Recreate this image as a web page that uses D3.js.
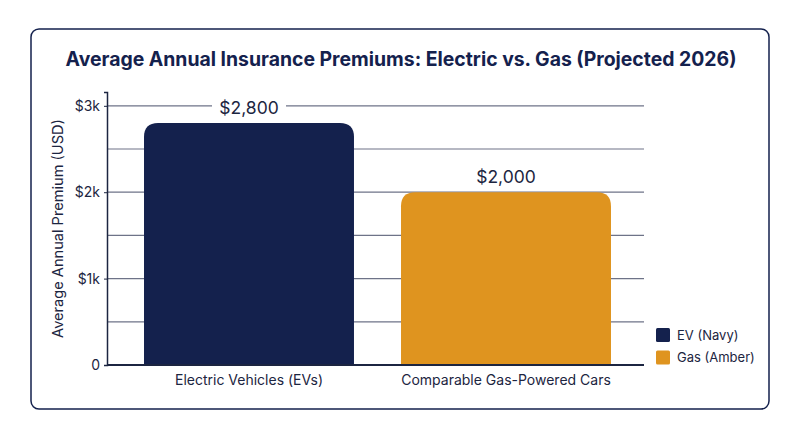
<!DOCTYPE html>
<html>
<head>
<meta charset="utf-8">
<script src="https://cdn.jsdelivr.net/npm/d3@7"></script>
<style>
  body { margin: 0; background: #fff; font-family: Inter, "Noto Sans", sans-serif; }
</style>
</head>
<body>
<div id="chart"></div>
<script>
// data
var categories = ["Electric Vehicles (EVs)", "Comparable Gas-Powered Cars"];
var premiums = [2800, 2000];
var barLabels = ["$2,800", "$2,000"];
var seriesNames = ["EV (Navy)", "Gas (Amber)"];
var yTicks = [0, 1000, 2000, 3000];
var yTickLabels = ["0", "$1k", "$2k", "$3k"];
var gridValues = [500, 1000, 1500, 2000, 2500, 3000];

var navy = "#14214d";
var amber = "#df941f";
var ink = "#1c2541";

var svgWidth = 800;
var svgHeight = 447;

var margin = { top: 92, left: 107, right: 156, bottom: 82 };
var width = svgWidth - margin.left - margin.right;
var height = svgHeight - margin.top - margin.bottom;

var svg = d3.select("#chart")
  .append("svg")
  .attr("width", svgWidth)
  .attr("height", svgHeight);

// card
svg.append("rect")
  .attr("x", 31)
  .attr("y", 29)
  .attr("width", 738)
  .attr("height", 380)
  .attr("rx", 8)
  .attr("fill", "#fff")
  .attr("stroke", navy)
  .attr("stroke-width", 1.5);

svg.append("text")
  .attr("x", 401)
  .attr("y", 66)
  .attr("text-anchor", "middle")
  .attr("font-size", 19.4)
  .attr("font-weight", 700)
  .attr("fill", navy)
  .text("Average Annual Insurance Premiums: Electric vs. Gas (Projected 2026)");

var chartGroup = svg.append("g")
  .attr("transform", `translate(${margin.left}, ${margin.top})`);

var xScale = d3.scaleBand()
  .domain(categories)
  .range([0, 541])
  .paddingInner(0.183)
  .paddingOuter(0.144);

var yScale = d3.scaleLinear()
  .domain([0, 3160])
  .range([height, 0]);

// gridlines
chartGroup.selectAll(".grid")
  .data(gridValues)
  .enter()
  .append("line")
  .attr("x1", 0)
  .attr("x2", width)
  .attr("y1", d => yScale(d))
  .attr("y2", d => yScale(d))
  .attr("stroke", "#6e7388")
  .attr("stroke-width", 1.2);

// bars with rounded top
var r = 14;
chartGroup.selectAll(".bar")
  .data(premiums)
  .enter()
  .append("path")
  .attr("fill", (d, i) => i === 0 ? navy : amber)
  .attr("d", function(d, i) {
    var x0 = xScale(categories[i]);
    var w = xScale.bandwidth();
    var y0 = yScale(d);
    var yb = yScale(0);
    return `M${x0},${yb} V${y0 + r} Q${x0},${y0} ${x0 + r},${y0} H${x0 + w - r} Q${x0 + w},${y0} ${x0 + w},${y0 + r} V${yb} Z`;
  });

// value labels with white backing
var labels = chartGroup.selectAll(".val")
  .data(premiums)
  .enter()
  .append("g")
  .attr("transform", (d, i) => `translate(${xScale(categories[i]) + xScale.bandwidth() / 2}, ${yScale(d) - 15})`);

labels.append("rect")
  .attr("x", -37)
  .attr("y", -12)
  .attr("width", 74)
  .attr("height", 24)
  .attr("fill", "#fff");

labels.append("text")
  .attr("text-anchor", "middle")
  .attr("dy", "0.35em")
  .attr("font-size", 17.5)
  .attr("fill", ink)
  .text((d, i) => barLabels[i]);

// axes
var leftAxis = d3.axisLeft(yScale)
  .tickValues(yTicks)
  .tickFormat((d, i) => yTickLabels[i])
  .tickSize(3)
  .tickPadding(4);

var yAxisG = chartGroup.append("g").call(leftAxis);
yAxisG.select(".domain").attr("stroke", ink).attr("stroke-width", 1.5);
yAxisG.selectAll(".tick line").attr("stroke", ink);
yAxisG.selectAll("text").attr("font-size", 14).attr("fill", ink).attr("font-family", "Inter, sans-serif");

var bottomAxis = d3.axisBottom(xScale).tickSize(0).tickPadding(10);
var xAxisG = chartGroup.append("g")
  .attr("transform", `translate(0, ${height})`)
  .call(bottomAxis);
xAxisG.select(".domain").attr("stroke", ink).attr("stroke-width", 1.8).attr("d", `M0,0H${width}`);
xAxisG.selectAll("text").attr("font-size", 14).attr("fill", ink).attr("font-family", "Inter, sans-serif");

// y axis title
chartGroup.append("text")
  .attr("transform", "rotate(-90)")
  .attr("x", -(228.5 - margin.top))
  .attr("y", -44)
  .attr("text-anchor", "middle")
  .attr("font-size", 14.6)
  .attr("fill", ink)
  .text("Average Annual Premium (USD)");

// legend
var legend = svg.append("g")
  .attr("transform", "translate(656, 328)");

var item = legend.selectAll("g")
  .data(seriesNames)
  .enter()
  .append("g")
  .attr("transform", (d, i) => `translate(0, ${i * 22.5})`);

item.append("rect")
  .attr("width", 14)
  .attr("height", 14)
  .attr("rx", 1.5)
  .attr("fill", (d, i) => i === 0 ? navy : amber);

item.append("text")
  .attr("x", 21)
  .attr("y", 7)
  .attr("dy", "0.35em")
  .attr("font-size", 13)
  .attr("fill", ink)
  .text(d => d);
</script>
</body>
</html>
